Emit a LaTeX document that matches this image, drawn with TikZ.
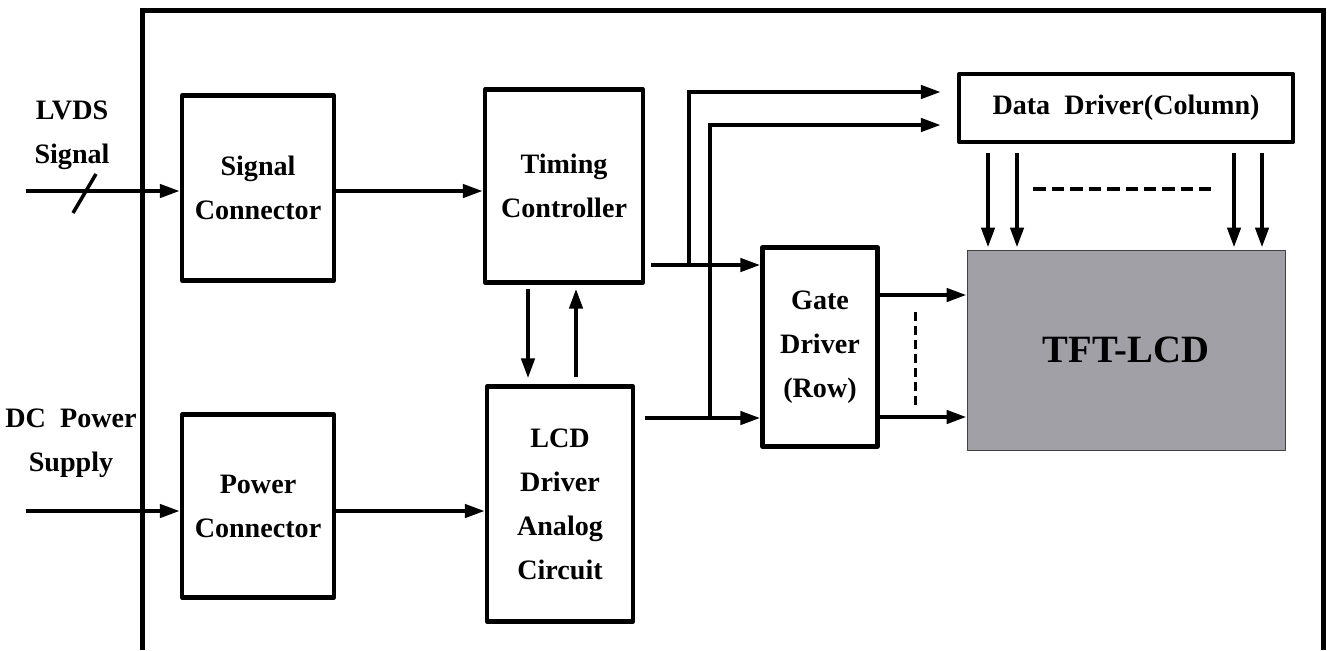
\documentclass[tikz,border=0pt]{standalone}
\usepackage{fontspec}
\setmainfont{Liberation Serif}
\usetikzlibrary{arrows.meta}
\definecolor{panelgray}{RGB}{160,160,166}

\begin{document}
\begin{tikzpicture}[x=0.02cm, y=-0.02cm, line width=0.085cm,
	>={Triangle[length=0.4cm,width=0.26cm]},
	every node/.style={font=\fontsize{16}{25}\selectfont\bfseries, align=center},
	block/.style={draw, rectangle, inner sep=0pt, line join=round}]
			\useasboundingbox (0,0) rectangle (1327,650);

			% Frame
			\draw[line width=0.1cm] (142,650) -- (142,10) -- (1323,10) -- (1323,650);

			% Nodes
			\node[block, minimum width=3.04cm, minimum height=3.7cm] (sigcon) at (258,188) {Signal\\Connector};      % Top-left
			\node[block, minimum width=3.04cm, minimum height=3.66cm] (powcon) at (258,506) {Power\\Connector};       % Bottom-left
			\node[block, minimum width=3.16cm, minimum height=3.86cm] (timing) at (564,186) {Timing\\Controller};   % Top-middle
			\node[block, minimum width=2.92cm, minimum height=4.7cm] (lcd) at (560,504) {LCD\\Driver\\Analog\\Circuit}; % Bottom-middle
			\node[block, minimum width=2.3cm, minimum height=3.98cm] (gate) at (820,347) {Gate\\Driver\\(Row)};      % Center
			\node[block, minimum width=6.68cm, minimum height=1.36cm] (datadrv) at (1126,108) {Data~ Driver(Column)}; % Top-right
			\node[block, draw=black!75, line width=0.5pt, fill=panelgray, minimum width=6.36cm, minimum height=4cm,
				font=\fontsize{22}{26}\selectfont\bfseries] (tft) at (1126,350) {TFT-LCD};                            % Right

			% Labels
			\node (lvdslbl) at (72,135) {LVDS\\Signal};
			\node (dclbl) at (71,443) {DC~ Power\\Supply};

			% Free ends
			\coordinate (lvds) at (26,191);
			\coordinate (dcin) at (26,511);
			\coordinate (tout) at (651,265);
			\coordinate (lout) at (645,418);
			\coordinate (ja) at (689,265);
			\coordinate (jb) at (710,418);

			% Edges
			\draw[->] (lvds) -- (lvds -| sigcon.west);
			\draw[line width=0.07cm] (73,213) -- (96,174);
			\draw[->] (dcin) -- (dcin -| powcon.west);
			\draw[->] (sigcon.east |- lvds) -- (timing.west |- lvds);
			\draw[->] (powcon.east |- dcin) -- (lcd.west |- dcin);
			\draw[->, shorten <=0.08cm, shorten >=0.12cm] (timing.south -| 528,0) -- (lcd.north -| 528,0);
			\draw[->, shorten <=0.14cm, shorten >=0.08cm] (lcd.north -| 576,0) -- (timing.south -| 576,0);
			\draw[->] (tout) -- (tout -| gate.west);
			\draw[->] (lout) -- (lout -| gate.west);
			\draw[->, shorten >=0.32cm] (ja) |- (datadrv.west |- 0,92);
			\draw[->, shorten >=0.32cm] (jb) |- (datadrv.west |- 0,125);
			\draw[->] (gate.east |- 0,295) -- (tft.west |- 0,295);
			\draw[->] (gate.east |- 0,417) -- (tft.west |- 0,417);
			\draw[line width=0.06cm, dash pattern=on 0.18cm off 0.1cm] (915,312) -- (915,405);
			\foreach \x in {988,1017,1234,1262}
				\draw[->, shorten <=0.18cm, shorten >=0.04cm] (datadrv.south -| \x,0) -- (tft.north -| \x,0);
			\draw[dash pattern=on 0.25cm off 0.12cm] (1033,189) -- (1211,189);
		\end{tikzpicture}
\end{document}
